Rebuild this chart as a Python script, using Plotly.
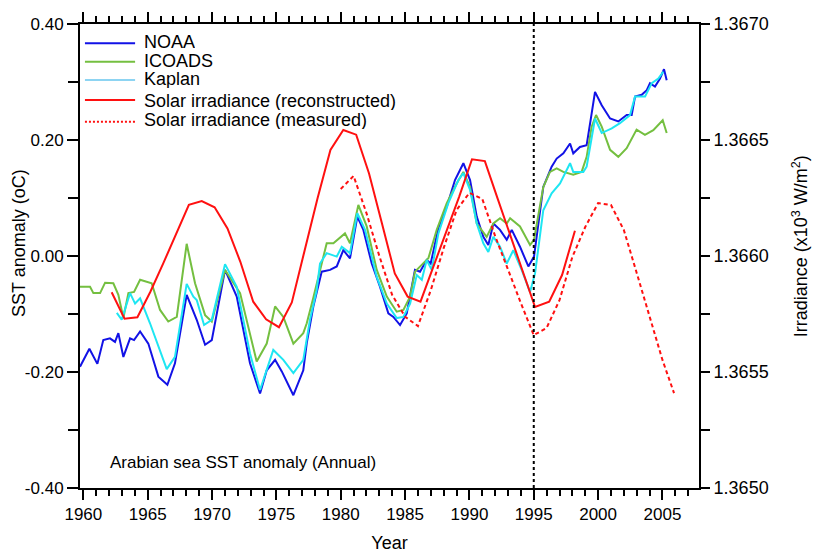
import plotly.graph_objects as go

# ---------------- data ----------------
noaa_year = [1959.74, 1960.47, 1961.09, 1961.55, 1962.07, 1962.46, 1962.72, 1963.11, 1963.63, 1963.94,
             1964.41, 1965.05, 1965.83, 1966.53, 1967.12, 1968.03, 1968.81, 1969.46, 1969.98, 1971.01,
             1971.92, 1972.95, 1973.73, 1974.25, 1974.90, 1975.42, 1976.32, 1977.09, 1977.36, 1977.87,
             1978.52, 1979.17, 1979.69, 1980.20, 1980.72, 1981.29, 1981.76, 1982.41, 1983.05, 1983.70,
             1984.09, 1984.61, 1985.13, 1985.77, 1986.16, 1986.68, 1986.99, 1987.59, 1988.24, 1988.88,
             1989.53, 1990.05, 1990.57, 1991.08, 1991.47, 1991.86, 1992.38, 1992.90, 1993.29, 1993.93,
             1994.58, 1995.02, 1995.74, 1996.39, 1996.78, 1997.30, 1997.82, 1998.07, 1998.59, 1999.11,
             1999.50, 1999.76, 2000.28, 2000.93, 2001.57, 2002.22, 2002.61, 2002.87, 2003.39, 2003.78,
             2004.03, 2004.42, 2004.81, 2005.12, 2005.33]
noaa_sst = [-0.191, -0.160, -0.186, -0.145, -0.142, -0.148, -0.133, -0.174, -0.142, -0.145,
            -0.130, -0.151, -0.208, -0.222, -0.185, -0.067, -0.110, -0.153, -0.145, -0.024,
            -0.070, -0.185, -0.237, -0.197, -0.179, -0.199, -0.240, -0.197, -0.150, -0.087,
            -0.027, -0.024, -0.018, 0.010, -0.004, 0.068, 0.045, -0.013, -0.053, -0.099,
            -0.105, -0.119, -0.099, -0.024, -0.027, -0.007, -0.013, 0.048, 0.085, 0.131,
            0.160, 0.131, 0.068, 0.033, 0.019, 0.056, 0.045, 0.028, 0.045, 0.016,
            -0.018, -0.001, 0.119, 0.154, 0.168, 0.177, 0.194, 0.177, 0.188, 0.191,
            0.246, 0.283, 0.260, 0.237, 0.232, 0.243, 0.243, 0.275, 0.278, 0.286,
            0.298, 0.292, 0.306, 0.322, 0.303]

icoads_year = [1959.74, 1960.52, 1960.78, 1961.30, 1961.69, 1962.33, 1962.72, 1963.11, 1963.50, 1963.94,
               1964.41, 1965.31, 1965.96, 1966.60, 1967.26, 1968.03, 1968.68, 1969.46, 1969.98, 1971.01,
               1972.18, 1973.21, 1973.47, 1974.25, 1974.90, 1975.54, 1976.32, 1977.09, 1977.36, 1977.87,
               1978.91, 1979.43, 1980.33, 1980.72, 1981.37, 1982.02, 1982.80, 1983.58, 1984.35, 1984.87,
               1985.39, 1985.77, 1986.42, 1986.81, 1987.46, 1988.24, 1989.01, 1989.53, 1990.05, 1990.57,
               1991.34, 1991.86, 1992.38, 1992.90, 1993.16, 1993.93, 1994.71, 1995.02, 1995.74, 1996.26,
               1996.78, 1997.30, 1998.07, 1998.72, 1999.11, 1999.50, 1999.84, 2000.28, 2000.93, 2001.57,
               2002.22, 2002.99, 2003.64, 2004.29, 2005.02, 2005.33]
icoads_sst = [-0.053, -0.053, -0.064, -0.064, -0.046, -0.047, -0.067, -0.107, -0.064, -0.062,
              -0.041, -0.047, -0.093, -0.113, -0.105, 0.021, -0.047, -0.102, -0.113, -0.024,
              -0.064, -0.156, -0.182, -0.151, -0.087, -0.105, -0.151, -0.133, -0.116, -0.072,
              0.022, 0.022, 0.039, 0.022, 0.088, 0.051, -0.024, -0.070, -0.096, -0.093,
              -0.070, -0.027, -0.013, -0.004, 0.045, 0.091, 0.125, 0.145, 0.119, 0.056,
              0.033, 0.056, 0.065, 0.056, 0.065, 0.051, 0.019, 0.028, 0.119, 0.145,
              0.151, 0.145, 0.140, 0.145, 0.171, 0.223, 0.243, 0.223, 0.183, 0.171,
              0.186, 0.218, 0.209, 0.217, 0.234, 0.212]

kaplan_year = [1962.60, 1962.98, 1963.63, 1964.02, 1964.41, 1965.18, 1966.48, 1967.12, 1968.03, 1968.55,
               1968.81, 1969.38, 1969.98, 1971.01, 1971.92, 1972.95, 1973.73, 1974.76, 1975.54, 1976.32,
               1977.09, 1977.61, 1978.13, 1978.39, 1978.91, 1979.69, 1980.08, 1980.72, 1981.29, 1981.89,
               1982.80, 1983.58, 1984.35, 1984.87, 1985.39, 1985.91, 1986.30, 1986.68, 1987.07, 1987.59,
               1988.36, 1989.14, 1989.53, 1990.05, 1990.57, 1991.08, 1991.47, 1991.86, 1992.38, 1992.90,
               1993.41, 1994.06, 1994.71, 1995.10, 1995.74, 1996.39, 1997.04, 1997.82, 1998.07, 1998.85,
               1999.11, 1999.37, 1999.76, 2000.28, 2001.06, 2001.70, 2002.48, 2002.87, 2003.65, 2004.17,
               2004.68, 2005.07]
kaplan_sst = [-0.098, -0.110, -0.064, -0.082, -0.073, -0.116, -0.195, -0.174, -0.048, -0.070,
              -0.076, -0.119, -0.110, -0.014, -0.053, -0.168, -0.231, -0.162, -0.179, -0.202,
              -0.179, -0.110, -0.059, -0.013, 0.005, -0.001, 0.016, 0.005, 0.074, 0.045,
              -0.036, -0.082, -0.107, -0.105, -0.082, -0.033, -0.041, -0.007, -0.024, 0.039,
              0.091, 0.131, 0.143, 0.114, 0.056, 0.022, 0.007, 0.033, 0.016, -0.013,
              0.010, -0.024, -0.062, -0.030, 0.079, 0.108, 0.125, 0.160, 0.145, 0.145,
              0.154, 0.188, 0.237, 0.212, 0.220, 0.229, 0.243, 0.275, 0.275, 0.298,
              0.306, 0.318]

recon_year = [1962.2, 1963.2, 1964.2, 1965.2, 1966.2, 1967.2, 1968.2, 1969.2, 1970.2, 1971.2,
              1972.2, 1973.2, 1974.2, 1975.2, 1976.2, 1977.2, 1978.2, 1979.2, 1980.2, 1981.2,
              1982.2, 1983.2, 1984.2, 1985.2, 1986.2, 1987.2, 1988.2, 1989.2, 1990.2, 1991.2,
              1992.2, 1993.2, 1994.2, 1995.1, 1996.2, 1997.2, 1998.2]
recon_irr = [1.365844, 1.365730, 1.365736, 1.365845, 1.365967, 1.366094, 1.366221, 1.366237, 1.366210, 1.366119,
             1.365975, 1.365803, 1.365727, 1.365693, 1.365800, 1.366025, 1.366249, 1.366457, 1.366543, 1.366523,
             1.366356, 1.366141, 1.365925, 1.365825, 1.365803, 1.365954, 1.366104, 1.366255, 1.366417, 1.366409,
             1.366246, 1.366086, 1.365927, 1.365780, 1.365803, 1.365918, 1.366109]

meas_year = [1980.0, 1981.0, 1982.0, 1983.0, 1984.0, 1985.0, 1986.0, 1987.0, 1988.0, 1989.0,
             1990.0, 1991.0, 1992.0, 1993.0, 1994.0, 1995.0, 1996.0, 1997.0, 1998.0, 1999.0,
             2000.0, 2001.0, 2002.0, 2003.0, 2004.0, 2005.0, 2005.9]
meas_irr = [1.366289, 1.366345, 1.366185, 1.366000, 1.365832, 1.365738, 1.365698, 1.365853, 1.366034, 1.366198,
            1.366272, 1.366246, 1.366086, 1.365940, 1.365797, 1.365659, 1.365690, 1.365810, 1.365996, 1.366125,
            1.366228, 1.366220, 1.366112, 1.365927, 1.365741, 1.365552, 1.365409]

divider_year = 1995

sst_ticks = [-0.40, -0.20, 0.00, 0.20, 0.40]
sst_ticktext = ["-0.40", "-0.20", "0.00", "0.20", "0.40"]
irr_ticks = [1.3650, 1.3655, 1.3660, 1.3665, 1.3670]
irr_ticktext = ["1.3650", "1.3655", "1.3660", "1.3665", "1.3670"]

series_names = ["NOAA", "ICOADS", "Kaplan",
                "Solar irradiance (reconstructed)", "Solar irradiance (measured)"]

# ---------------- styling ----------------
FONT = "Liberation Sans, Arial, Helvetica, sans-serif"
C_NOAA = "#1212e6"
C_ICOADS = "#74bf40"
C_KAPLAN = "#1ee6f2"
C_KAPLAN_LEG = "#8dd4f2"
C_RED = "#ff1010"

fig = go.Figure()
fig.add_trace(go.Scatter(x=noaa_year, y=noaa_sst, mode="lines", name=series_names[0],
                         line=dict(color=C_NOAA, width=2), showlegend=False))
fig.add_trace(go.Scatter(x=icoads_year, y=icoads_sst, mode="lines", name=series_names[1],
                         line=dict(color=C_ICOADS, width=2), showlegend=False))
fig.add_trace(go.Scatter(x=kaplan_year, y=kaplan_sst, mode="lines", name=series_names[2],
                         line=dict(color=C_KAPLAN, width=2), showlegend=False))
fig.add_trace(go.Scatter(x=recon_year, y=recon_irr, mode="lines", name=series_names[3], yaxis="y2",
                         line=dict(color=C_RED, width=2), showlegend=False))
fig.add_trace(go.Scatter(x=meas_year, y=meas_irr, mode="lines", name=series_names[4], yaxis="y2",
                         line=dict(color=C_RED, width=2, dash="4px,3px"), showlegend=False))

# vertical dotted divider at 1995
shapes = [dict(type="line", xref="x", yref="paper", x0=divider_year, x1=divider_year, y0=0, y1=1,
               line=dict(color="black", width=2, dash="3px,3px"), layer="above")]

# manual legend (top-left, inside the plot)
leg_line_y = [0.9584, 0.9188, 0.8793, 0.8362, 0.7894]
leg_text_y = [0.963, 0.921, 0.883, 0.836, 0.795]
leg_colors = [C_NOAA, C_ICOADS, C_KAPLAN_LEG, C_RED, C_RED]
leg_dash = ["solid", "solid", "solid", "solid", "2px,2px"]
annotations = []
for name, ly, ty, col, dsh in zip(series_names, leg_line_y, leg_text_y, leg_colors, leg_dash):
    shapes.append(dict(type="line", xref="paper", yref="paper", x0=0.008, x1=0.089, y0=ly, y1=ly,
                       line=dict(color=col, width=2, dash=dsh)))
    annotations.append(dict(text=name, xref="paper", yref="paper", x=0.100, y=ty,
                            xanchor="left", yanchor="middle", showarrow=False, height=19,
                            font=dict(family=FONT, size=18, color="black")))

annotations.append(dict(text="Arabian sea SST anomaly (Annual)", xref="paper", yref="paper",
                        x=0.045, y=0.056, xanchor="left", yanchor="middle", showarrow=False,
                        font=dict(family=FONT, size=17, color="black")))

# y-axis titles placed precisely
annotations.append(dict(text="SST anomaly (oC)", xref="paper", yref="paper",
                        x=-0.0985, y=0.528, xanchor="center", yanchor="middle", textangle=-90,
                        showarrow=False, font=dict(family=FONT, size=18, color="black")))
annotations.append(dict(text="Irradiance (x10<sup>3</sup> W/m<sup>2</sup>)", xref="paper", yref="paper",
                        x=1.164, y=0.520, xanchor="center", yanchor="middle", textangle=-90,
                        showarrow=False, font=dict(family=FONT, size=18, color="black")))

fig.update_layout(
    width=814, height=553,
    margin=dict(l=80, r=115, t=24, b=65, autoexpand=False),
    paper_bgcolor="white", plot_bgcolor="white",
    font=dict(family=FONT, size=17, color="black"),
    showlegend=False,
    shapes=shapes,
    annotations=annotations,
    xaxis=dict(
        range=[1959.74, 2007.84], tickmode="linear", tick0=1960, dtick=5,
        ticks="outside", ticklen=10, tickwidth=2, tickcolor="black",
        minor=dict(tickmode="linear", tick0=1960, dtick=1, ticks="outside", ticklen=6,
                   tickwidth=2, tickcolor="black", showgrid=False),
        showline=True, linewidth=2, linecolor="black", mirror="ticks",
        showgrid=False, zeroline=False, automargin=False,
        tickfont=dict(family=FONT, size=17),
        title=dict(text="Year", font=dict(family=FONT, size=18), standoff=20),
    ),
    yaxis=dict(
        range=[-0.4, 0.4], tickmode="array", tickvals=sst_ticks, ticktext=sst_ticktext,
        ticks="outside", ticklen=11, tickwidth=2, tickcolor="black",
        minor=dict(tickmode="linear", tick0=-0.4, dtick=0.1, ticks="outside", ticklen=10,
                   tickwidth=2, tickcolor="black", showgrid=False),
        showline=True, linewidth=2, linecolor="black",
        showgrid=False, zeroline=False, automargin=False,
        tickfont=dict(family=FONT, size=17),
    ),
    yaxis2=dict(
        range=[1.3650, 1.3670], overlaying="y", side="right",
        tickmode="array", tickvals=irr_ticks, ticktext=irr_ticktext,
        ticks="outside", ticklen=9, tickwidth=2, tickcolor="black",
        minor=dict(tickmode="linear", tick0=1.3650, dtick=0.00025, ticks="outside", ticklen=9,
                   tickwidth=2, tickcolor="black", showgrid=False),
        showline=True, linewidth=2, linecolor="black",
        showgrid=False, zeroline=False, automargin=False,
        tickfont=dict(family=FONT, size=18),
    ),
)

fig.write_html("out.html", config={"displayModeBar": False},
               post_script="document.body.style.margin='0px';")
